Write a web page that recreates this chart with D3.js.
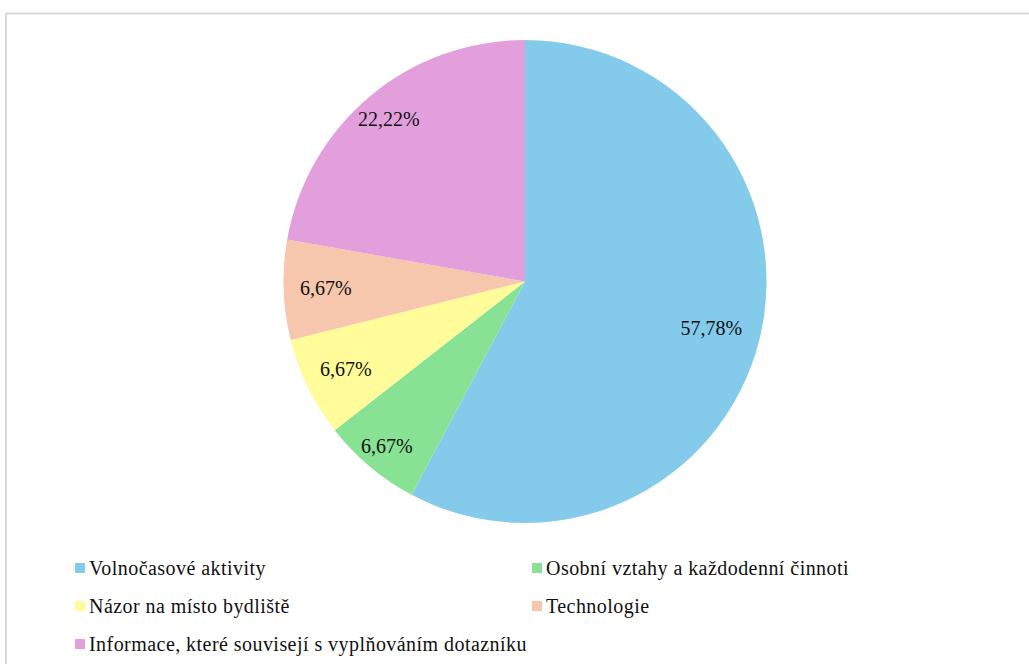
<!DOCTYPE html>
<html>
<head>
<meta charset="utf-8">
<script src="https://cdn.jsdelivr.net/npm/d3@7/dist/d3.min.js"></script>
<style>
  html, body { margin: 0; padding: 0; background: #fff; }
  svg { display: block; }
</style>
</head>
<body>
<svg id="chart" width="1029" height="664"></svg>
<script>
// Data
const categories = [
  "Volnočasové aktivity",
  "Osobní vztahy a každodenní činnoti",
  "Názor na místo bydliště",
  "Technologie",
  "Informace, které souvisejí s vyplňováním dotazníku"
];
const values = [57.78, 6.67, 6.67, 6.67, 22.22];
const valueLabels = ["57,78%", "6,67%", "6,67%", "6,67%", "22,22%"];
const colors = ["#83CAEB", "#87E293", "#FFFC99", "#F6C6AD", "#E39EDC"];
// label distance from center as fraction of radius (layout)
const labelRadiusFrac = [0.795, 0.89, 0.825, 0.825, 0.877];

const FONT = "'Liberation Serif', 'Times New Roman', 'DejaVu Serif', serif";

const svg = d3.select("#chart");

// Chart border
svg.append("rect")
  .attr("x", 6).attr("y", 13.5)
  .attr("width", 1100).attr("height", 700)
  .attr("fill", "none")
  .attr("stroke", "#d9d9d9")
  .attr("stroke-width", 2);

const cx = 525, cy = 281.5, R = 241.5;

const pie = d3.pie().sort(null).value(d => d)(values);
const arc = d3.arc().innerRadius(0).outerRadius(R);

const g = svg.append("g").attr("transform", `translate(${cx},${cy})`);

g.selectAll("path.slice")
  .data(pie)
  .join("path")
  .attr("class", "slice")
  .attr("d", arc)
  .attr("fill", (d, i) => colors[i]);

g.selectAll("text.lbl")
  .data(pie)
  .join("text")
  .attr("class", "lbl")
  .attr("text-anchor", "middle")
  .attr("font-family", FONT)
  .attr("font-size", 20)
  .attr("fill", "#111")
  .attr("transform", (d, i) => {
    const a = (d.startAngle + d.endAngle) / 2;
    const r = R * labelRadiusFrac[i];
    return `translate(${r * Math.sin(a)},${-r * Math.cos(a) + 7})`;
  })
  .text((d, i) => valueLabels[i]);

// Legend
const legendPos = [
  [75, 568], [532, 568],
  [75, 606], [532, 606],
  [75, 644]
];
const lg = svg.append("g");
categories.forEach((c, i) => {
  const [x, y] = legendPos[i];
  lg.append("rect")
    .attr("x", x).attr("y", y - 5)
    .attr("width", 10).attr("height", 10)
    .attr("fill", colors[i]);
  lg.append("text")
    .attr("x", x + 14).attr("y", y + 7)
    .attr("font-family", FONT)
    .attr("font-size", 20)
    .attr("letter-spacing", "0.45px")
    .attr("fill", "#111")
    .text(c);
});
</script>
</body>
</html>
